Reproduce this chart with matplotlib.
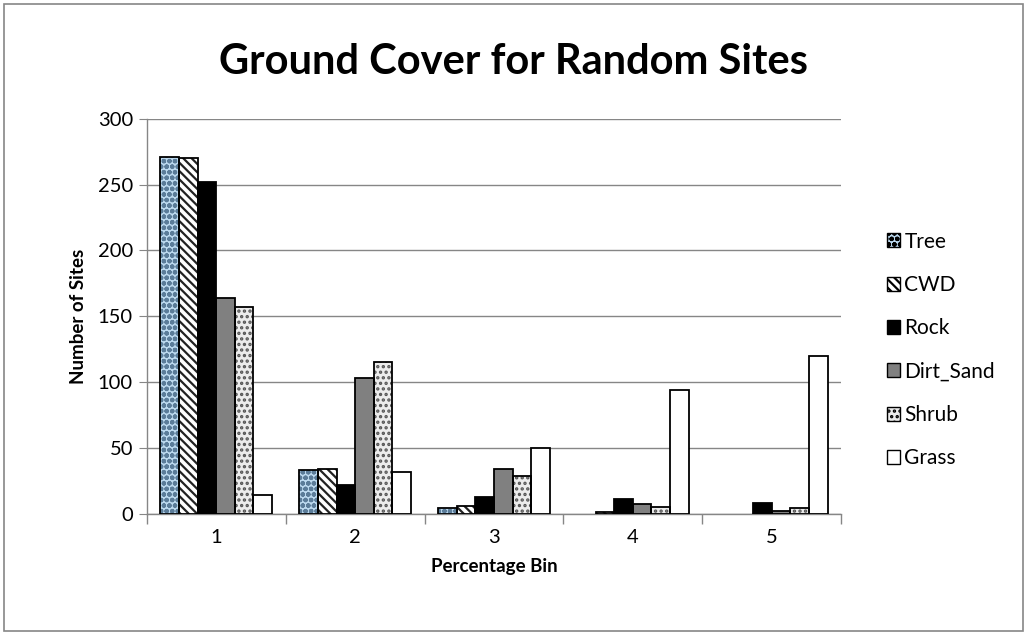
import numpy as np
import matplotlib.pyplot as plt
from matplotlib.patches import Rectangle

plt.rcParams['font.family'] = ['Lato', 'DejaVu Sans']
plt.rcParams['hatch.linewidth'] = 1.6

# data
bins = ["1", "2", "3", "4", "5"]
tree = [271, 33, 4, 0, 0]
cwd = [270, 34, 6, 1, 0]
rock = [252, 22, 13, 11, 8]
dirt_sand = [164, 103, 34, 7, 2]
shrub = [157, 115, 29, 5, 4]
grass = [14, 32, 50, 94, 120]

series = [("Tree", tree), ("CWD", cwd), ("Rock", rock),
          ("Dirt_Sand", dirt_sand), ("Shrub", shrub), ("Grass", grass)]
# face colour, hatch, hatch colour
styles = [("#bcd9ef", "ooo", "#5b7c99"),
          ("white", "\\\\\\\\", "#222222"),
          ("black", "", "black"),
          ("#808080", "", "#808080"),
          ("#ececec", "...", "#555555"),
          ("white", "", "white")]

fig = plt.figure(figsize=(10.27, 6.35), dpi=100)
ax = fig.add_axes([0.143, 0.191, 0.676, 0.622])

x = np.arange(len(bins))
w = 0.134
for i, ((name, vals), (fc, hatch, hc)) in enumerate(zip(series, styles)):
    pos = x + (i - 2.5) * w
    edges = ["black" if v > 0 else "none" for v in vals]
    ax.bar(pos, vals, w, color=fc, hatch=hatch, edgecolor=hc, linewidth=0, zorder=3)
    ax.bar(pos, vals, w, color="none", edgecolor=edges, linewidth=1.3, zorder=4)

ax.set_xlim(-0.5, 4.5)
ax.set_ylim(0, 300)
ax.set_yticks(range(0, 301, 50))
ax.set_xticks(x)
ax.set_xticklabels(bins)
ax.set_xticks(np.arange(-0.5, 5, 1), minor=True)
ax.tick_params(axis='x', which='major', length=0, labelsize=14.5, pad=11)
ax.tick_params(axis='x', which='minor', length=7, color='#868686', width=1)
ax.tick_params(axis='y', length=6, color='#868686', labelsize=14.5, pad=4)
ax.grid(axis='y', color='#868686', linewidth=1, zorder=0)
ax.set_axisbelow(True)
for s in ['top', 'right']:
    ax.spines[s].set_visible(False)
for s in ['left', 'bottom']:
    ax.spines[s].set_color('#868686')
    ax.spines[s].set_linewidth(1)

ax.set_xlabel("Percentage Bin", fontsize=13.5, fontweight='bold', labelpad=9)
ax.set_ylabel("Number of Sites", fontsize=13.5, fontweight='bold', labelpad=8)
fig.text(0.5, 0.902, "Ground Cover for Random Sites", ha='center', va='center',
         fontsize=30, fontweight='bold')

# legend with hatched handles
handles = []
for (fc, hatch, hc) in styles:
    handles.append(Rectangle((0, 0), 1, 1, facecolor=fc, hatch=hatch,
                             edgecolor='black', linewidth=1))
fig.legend(handles, [n for n, _ in series], loc='center left',
           bbox_to_anchor=(0.845, 0.449), frameon=False, fontsize=15,
           handlelength=0.65, handleheight=0.65, handletextpad=0.2,
           labelspacing=1.12)

fig.add_artist(Rectangle((0.004, 0.006), 0.992, 0.988, transform=fig.transFigure,
                         fill=False, edgecolor='#868686', linewidth=1.2))

fig.savefig("out.png", dpi=100)
